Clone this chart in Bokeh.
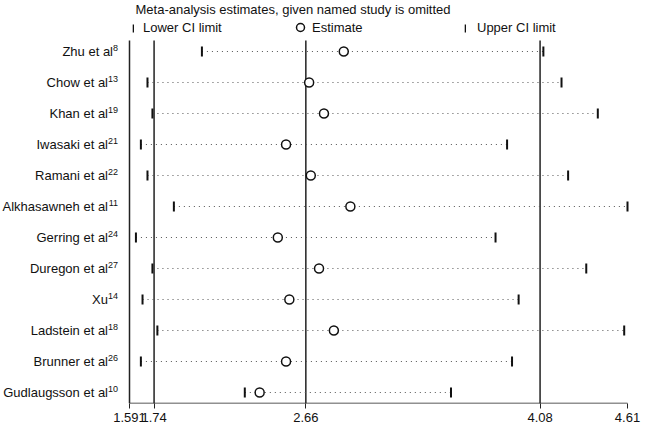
from bokeh.plotting import figure
from bokeh.models import (Range1d, FixedTicker, Legend, LegendItem, ColumnDataSource, Label,
                          CustomJSTickFormatter)
from bokeh.core.properties import value
from bokeh.embed import file_html
from bokeh.resources import INLINE

# ---- data ----
studies = ["Zhu et al", "Chow et al", "Khan et al", "Iwasaki et al", "Ramani et al",
           "Alkhasawneh et al", "Gerring et al", "Duregon et al", "Xu", "Ladstein et al",
           "Brunner et al", "Gudlaugsson et al"]
refs = ["8", "13", "19", "21", "22", "11", "24", "27", "14", "18", "26", "10"]
lower_ci = [2.03, 1.70, 1.73, 1.66, 1.70, 1.86, 1.63, 1.73, 1.67, 1.76, 1.66, 2.29]
estimate = [2.89, 2.68, 2.77, 2.54, 2.69, 2.93, 2.49, 2.74, 2.56, 2.83, 2.54, 2.38]
upper_ci = [4.10, 4.21, 4.43, 3.88, 4.25, 4.61, 3.81, 4.36, 3.95, 4.59, 3.91, 3.54]
pooled_lower, pooled_est, pooled_upper = 1.74, 2.66, 4.08
axis_min, axis_max = 1.591, 4.61
tick_values = [1.591, 1.74, 2.66, 4.08, 4.61]
tick_labels = ["1.591", "1.74", "2.66", "4.08", "4.61"]
title_text = "Meta-analysis estimates, given named study is omitted"

# ---- layout constants ----
W, H = 650, 427
AXIS_H = 24               # height of the x-axis panel
FRAME_H = H - AXIS_H      # frame spans page y 0 .. FRAME_H
AXIS_PX = 129.0           # page x of axis_min
END_PX = 627.0            # page x of axis_max
TICK_OUT, STANDOFF = 5, 4
scale = (END_PX - AXIS_PX) / (axis_max - axis_min)
x_start = axis_min - AXIS_PX / scale
x_end = x_start + W / scale

n = len(studies)
rows = list(range(1, n + 1))
ROW_PX = 31.0
ROW1_PX = 51.0
y_top = 1 - ROW1_PX / ROW_PX
y_bottom = 1 + (FRAME_H - ROW1_PX) / ROW_PX
y_plot_top = 1 - 11 / ROW_PX

FONT = "Liberation Sans"
INK = "#111111"
LINE = "#222222"

src = ColumnDataSource(dict(row=rows, lo=lower_ci, est=estimate, hi=upper_ci,
                            name=studies, ref=refs,
                            name_off=[-(11.5 + 5.0 * len(r)) for r in refs]))

p = figure(width=W, height=H, x_range=Range1d(x_start, x_end),
           y_range=Range1d(y_bottom, y_top),
           output_backend="svg", toolbar_location=None, y_axis_location=None,
           min_border_left=0, min_border_right=0, min_border_top=0,
           min_border_bottom=AXIS_H)
p.outline_line_color = None
p.xgrid.grid_line_color = None
p.ygrid.grid_line_color = None
p.background_fill_color = "white"

ax = p.xaxis[0]
ax.ticker = FixedTicker(ticks=tick_values)
ax.formatter = CustomJSTickFormatter(args=dict(labels=tick_labels),
                                     code="return labels[index];")
ax.axis_line_color = None
ax.major_tick_line_color = LINE
ax.major_tick_line_width = 1
ax.major_tick_in = 0
ax.major_tick_out = TICK_OUT
ax.minor_tick_line_color = None
ax.major_label_standoff = STANDOFF
ax.major_label_text_font = FONT
ax.major_label_text_font_size = "13px"
ax.major_label_text_color = INK

# axis lines (left axis at axis_min, bottom axis from axis_min to axis_max)
p.segment(x0=[axis_min], y0=[y_bottom], x1=[axis_max], y1=[y_bottom],
          line_color=LINE, line_width=1.5)
ref_lines = [axis_min, pooled_lower, pooled_est, pooled_upper]
p.segment(x0=ref_lines, y0=[y_bottom] * 4, x1=ref_lines, y1=[y_plot_top] * 4,
          line_color=LINE, line_width=1.5)

p.segment(x0="lo", y0="row", x1="hi", y1="row", source=src,
          line_color="#555555", line_width=1, line_dash="1 4")
r_lo = p.rect("lo", "row", width=2, height=10, width_units="screen", height_units="screen",
              source=src, fill_color=INK, line_color=None)
r_hi = p.rect("hi", "row", width=2, height=10, width_units="screen", height_units="screen",
              source=src, fill_color=INK, line_color=None)
r_est = p.scatter("est", "row", source=src, marker="circle", size=9,
                  fill_color="white", line_color=INK, line_width=1.5)

p.text(x=axis_min, y="row", text="name", source=src, x_offset="name_off",
       text_align="right", text_baseline="middle", text_font=value(FONT),
       text_font_size="13px", text_color=INK)
p.text(x=axis_min, y="row", text="ref", source=src, x_offset=-11.5, y_offset=-4,
       text_align="right", text_baseline="middle", text_font=value(FONT),
       text_font_size="9px", text_color=INK)

p.add_layout(Label(x=135, y=FRAME_H - 9, x_units="screen", y_units="screen",
                   text=title_text, text_align="left", text_baseline="middle",
                   text_font=FONT, text_font_size="13px", text_color=INK))


def make_legend(label, renderer, gx, gw, gh, standoff, bottom):
    return Legend(items=[LegendItem(label=label, renderers=[renderer])],
                  orientation="horizontal",
                  location=(gx - gw / 2, FRAME_H - bottom),
                  glyph_width=gw, glyph_height=gh, label_height=gh,
                  label_standoff=standoff, padding=0, margin=0,
                  border_line_color=None, background_fill_alpha=0,
                  label_text_font=FONT, label_text_font_size="13px",
                  label_text_color=INK)


p.add_layout(make_legend("Lower CI limit", r_lo, 133, 2, 10, 9, 35), "center")
p.add_layout(make_legend("Estimate", r_est, 300, 20, 20, 2, 37), "center")
p.add_layout(make_legend("Upper CI limit", r_hi, 465, 2, 10, 11, 35), "center")

open("out.html", "w").write(file_html(p, INLINE))
